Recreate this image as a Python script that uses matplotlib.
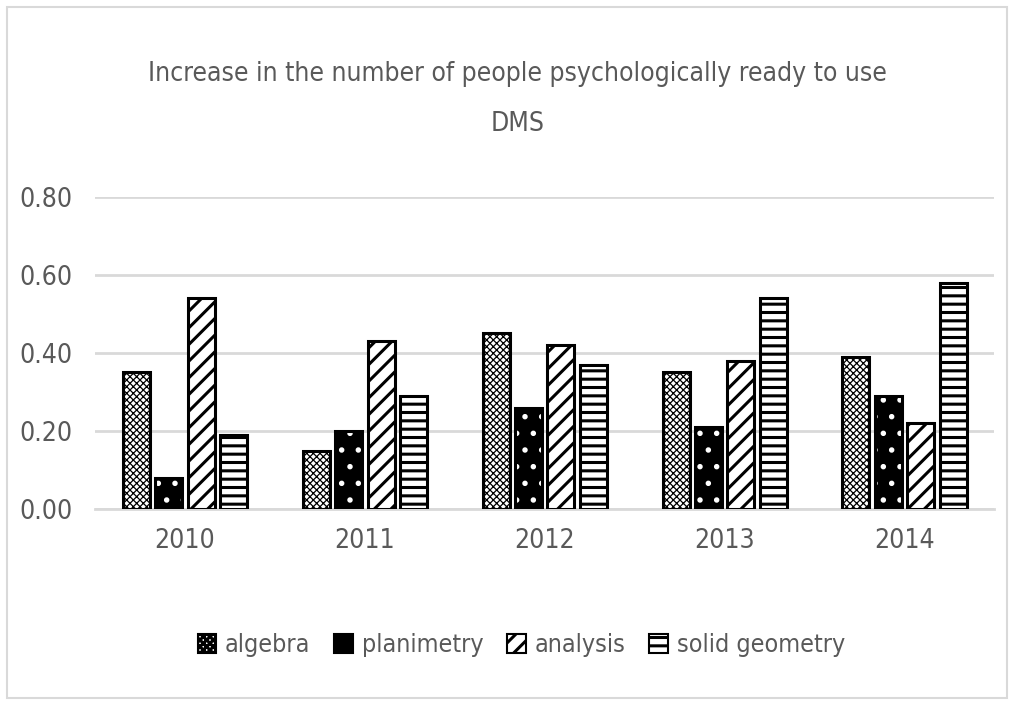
import numpy as np
import matplotlib.pyplot as plt
from matplotlib.patches import Rectangle, Patch

years = ['2010', '2011', '2012', '2013', '2014']
series = ['algebra', 'planimetry', 'analysis', 'solid geometry']
algebra = [0.35, 0.15, 0.45, 0.35, 0.39]
planimetry = [0.08, 0.20, 0.26, 0.21, 0.29]
analysis = [0.54, 0.43, 0.42, 0.38, 0.22]
solid_geometry = [0.19, 0.29, 0.37, 0.54, 0.58]
values = [algebra, planimetry, analysis, solid_geometry]

plt.rcParams['font.family'] = ['DejaVu Sans']
plt.rcParams['font.stretch'] = 'condensed'
text_color = '#595959'
grid_color = '#d9d9d9'

fig = plt.figure(figsize=(10.14, 7.05), dpi=100)
fig.patches.append(Rectangle((0.007, 0.01), 0.986, 0.98, transform=fig.transFigure,
                             fill=False, edgecolor=grid_color, linewidth=1.5))
ax = fig.add_axes([0.0937, 0.278, 0.887, 0.4426])

x = np.arange(len(years))
pitch = 0.18
width = 0.15
offsets = (np.arange(4) - 1.5) * pitch

styles = [
    dict(facecolor='white', edgecolor='black', hatch='xxxxx'),
    dict(facecolor='black', edgecolor='white', hatch='.'),
    dict(facecolor='white', edgecolor='black', hatch='//'),
    dict(facecolor='white', edgecolor='black', hatch='--'),
]
hatch_lw = [0.9, 1.5, 2.2, 2.2]

handles = []
for i, (vals, st) in enumerate(zip(values, styles)):
    plt.rcParams['hatch.linewidth'] = hatch_lw[i]
    ax.bar(x + offsets[i], vals, width, linewidth=0, zorder=3, **st)
    ax.bar(x + offsets[i], vals, width, facecolor='none', edgecolor='black',
           linewidth=2.2, zorder=4)
    handles.append(Patch(facecolor=st['facecolor'], edgecolor='black',
                         hatch=st['hatch'], linewidth=1.5, label=series[i]))

ax.set_xlim(-0.5, 4.5)
ax.set_ylim(0, 0.8)
ax.set_yticks([0, 0.2, 0.4, 0.6, 0.8])
ax.set_yticklabels([f'{v:.2f}' for v in [0, 0.2, 0.4, 0.6, 0.8]])
ax.set_xticks(x)
ax.set_xticklabels(years)
ax.tick_params(length=0, labelsize=19, colors=text_color, pad=14)
ax.tick_params(axis='y', pad=16)
ax.grid(axis='y', color=grid_color, linewidth=2, zorder=0)
for s in ['top', 'right', 'left']:
    ax.spines[s].set_visible(False)
ax.spines['bottom'].set_color(grid_color)
ax.spines['bottom'].set_linewidth(2)

fig.text(0.51, 0.86, 'Increase in the number of people psychologically ready to use\nDMS',
         ha='center', va='center', fontsize=19, color=text_color, linespacing=2.2)

fig.legend(handles=handles, loc='center', bbox_to_anchor=(0.514, 0.085), ncol=4,
           frameon=False, fontsize=18, labelcolor=text_color, handlelength=0.75,
           handleheight=0.75, handletextpad=0.35, columnspacing=0.95)

fig.savefig('out.png', dpi=100)
